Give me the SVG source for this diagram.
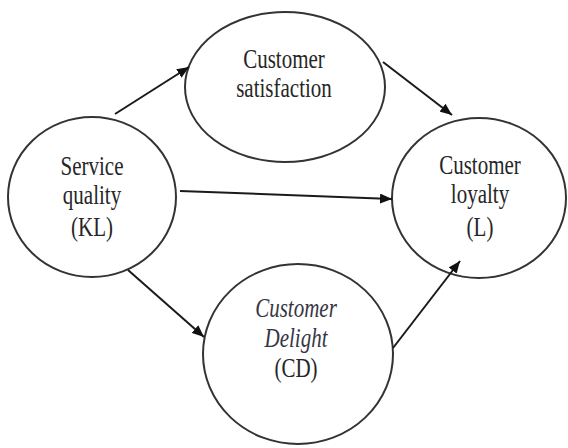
<svg xmlns="http://www.w3.org/2000/svg" width="568" height="448" viewBox="0 0 568 448">
  <style>
    .node { fill: #ffffff; stroke: #333333; stroke-width: 2; }
    .label { font-family: "Liberation Serif", "DejaVu Serif", serif; font-size: 21px; fill: #262626; text-anchor: middle; }
    .it { font-style: italic; fill: #363644; }
    .edge { stroke: #1a1a1a; stroke-width: 2; fill: none; marker-end: url(#arrow); }
  </style>
  <defs>
    <marker id="arrow" viewBox="0 0 12 10" refX="12" refY="5" markerWidth="12" markerHeight="10" markerUnits="userSpaceOnUse" orient="auto">
      <path d="M0,0 L12,5 L0,10 Z" fill="#111111"/>
    </marker>
  </defs>
  <rect width="568" height="448" fill="#ffffff"/>

  <!-- labels are set in a tall face: each line is stretched 1.25x vertically about its baseline -->
  <g id="service-quality">
    <ellipse class="node" cx="92" cy="197" rx="84" ry="80"/>
    <text class="label" transform="matrix(1 0 0 1.25 92 175)">Service</text>
    <text class="label" transform="matrix(1 0 0 1.25 92 204)">quality</text>
    <text class="label" transform="matrix(1 0 0 1.25 92 236)">(KL)</text>
  </g>

  <g id="customer-satisfaction">
    <ellipse class="node" cx="285" cy="87" rx="100" ry="75"/>
    <text class="label" transform="matrix(1 0 0 1.25 284 68)">Customer</text>
    <text class="label" transform="matrix(1 0 0 1.25 284 97)">satisfaction</text>
  </g>

  <g id="customer-loyalty">
    <ellipse class="node" cx="479" cy="198" rx="87" ry="80"/>
    <text class="label" transform="matrix(1 0 0 1.25 480 174)">Customer</text>
    <text class="label" transform="matrix(1 0 0 1.25 480 203)">loyalty</text>
    <text class="label" transform="matrix(1 0 0 1.25 480 236)">(L)</text>
  </g>

  <g id="customer-delight">
    <ellipse class="node" cx="298" cy="354" rx="95" ry="90"/>
    <text class="label it" transform="matrix(1 0 0 1.25 296 317)">Customer</text>
    <text class="label it" transform="matrix(1 0 0 1.25 296 347)">Delight</text>
    <text class="label" transform="matrix(1 0 0 1.25 296 377)">(CD)</text>
  </g>

  <g id="connectors">
    <line class="edge" x1="115" y1="114" x2="189" y2="67"/>
    <line class="edge" x1="383" y1="62" x2="452" y2="115"/>
    <line class="edge" x1="180" y1="191" x2="392" y2="199"/>
    <line class="edge" x1="128" y1="270" x2="204" y2="337"/>
    <line class="edge" x1="393" y1="348" x2="460" y2="261"/>
  </g>
</svg>
